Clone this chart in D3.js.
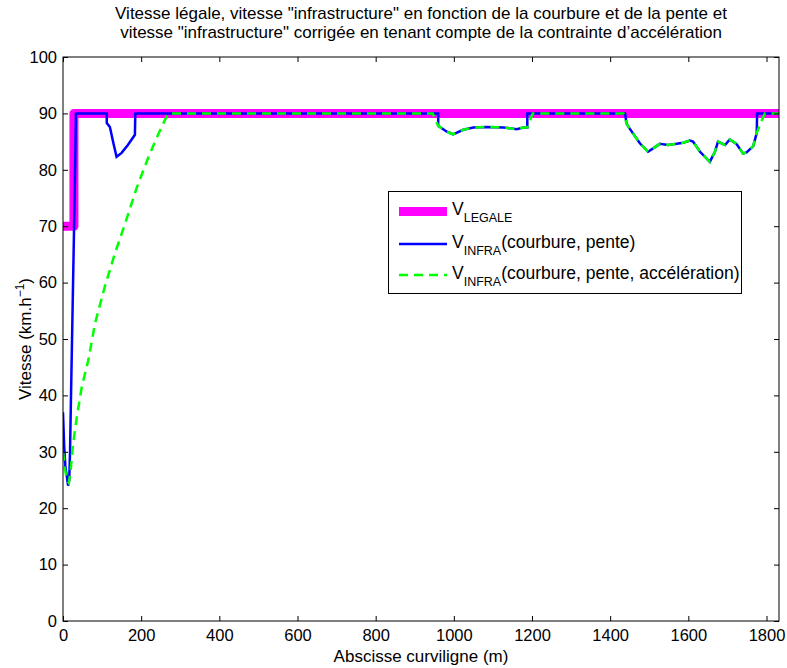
<!DOCTYPE html>
<html><head><meta charset="utf-8">
<script src="https://cdn.jsdelivr.net/npm/d3@7"></script>
<style>body{margin:0;background:#fff;} text{font-family:"Liberation Sans",Arial,sans-serif;}</style>
</head><body>
<svg id="c" width="787" height="668"></svg>
<script>
const titleLines = ['Vitesse légale, vitesse "infrastructure" en fonction de la courbure et de la pente et',
  'vitesse "infrastructure" corrigée en tenant compte de la contrainte d\u2019accélération'];
const xTicks = [0,200,400,600,800,1000,1200,1400,1600,1800];
const yTicks = [0,10,20,30,40,50,60,70,80,90,100];
const vLegale = [[0,70],[28,70],[28,90],[1832,90]];
const vInfra = [[0,37],[3,31],[6,27.5],[9,26],[13,24],[16,25],[18,30],[20,38],[31,80],[33,90],[112,90],[112,88.3],[120,87.6],[128,85],[137,82.3],[150,83],[166,84.4],[184,86.2],[185,90],
 [960,90],[960,87.8],[981,86.8],[998,86.3],[1024,87.1],[1050,87.5],[1084,87.6],[1126,87.5],[1161,87.2],[1178,87.5],[1188,87.5],[1188,90],
 [1438,90],[1442,88.2],[1450,87.3],[1476,84.7],[1497,83.2],[1510,83.8],[1527,84.6],[1548,84.4],[1570,84.6],[1587,84.8],[1604,85.2],[1612,85.0],[1630,83.2],[1655,81.4],[1668,83.2],[1676,85.0],[1685,84.7],[1694,84.4],[1706,85.4],[1723,84.6],[1740,82.9],[1749,83.1],[1766,84.2],[1775,86.5],[1776,90],[1832,90]];
const vInfraAcc = [[0,30],[5,27],[10,25],[15,24.5],[20,27],[25,31],[35,36],[48,41.5],[65,46.3],[82,52.8],[107,59.3],[133,65.2],[159,70.5],[188,76.7],[220,82.5],[245,86.5],[262,89],[270,90],
 [946,90],[960,87.8],[981,86.8],[998,86.3],[1024,87.1],[1050,87.5],[1084,87.6],[1126,87.5],[1161,87.2],[1178,87.5],[1188,87.5],[1202,90],
 [1434,90],[1442,88.2],[1450,87.3],[1476,84.7],[1497,83.2],[1510,83.8],[1527,84.6],[1548,84.4],[1570,84.6],[1587,84.8],[1604,85.2],[1612,85.0],[1630,83.2],[1655,81.4],[1668,83.2],[1676,85.0],[1685,84.7],[1694,84.4],[1706,85.4],[1723,84.6],[1740,82.9],[1749,83.1],[1766,84.2],[1775,86.5],[1786,88.5],[1796,90],[1832,90]];

const svg = d3.select('#c');
const L=63, R=779, T=57, B=621;
const x = d3.scaleLinear().domain([0,1832]).range([L,R]);
const y = d3.scaleLinear().domain([0,100]).range([B,T]);

svg.append('defs').append('clipPath').attr('id','clip').append('rect').attr('x',L).attr('y',T).attr('width',R-L).attr('height',B-T);

const line = d3.line().x(d=>x(d[0])).y(d=>y(d[1]));
const g = svg.append('g').attr('clip-path','url(#clip)');
g.append('path').datum(vLegale).attr('d',line).attr('fill','none').attr('stroke','#ff00ff').attr('stroke-width',9).attr('stroke-linejoin','round');
g.append('path').datum(vInfra).attr('d',line).attr('fill','none').attr('stroke','#0000ff').attr('stroke-width',2.5);
g.append('path').datum(vInfraAcc).attr('d',line).attr('fill','none').attr('stroke','#00ff00').attr('stroke-width',2.5).attr('stroke-dasharray','9,6');

// axes
const fs = 16.5;
const fmt = d3.format('d');
svg.append('g').attr('transform',`translate(0,${B})`).call(d3.axisBottom(x).tickValues(xTicks).tickFormat(fmt).tickSizeInner(-5).tickSizeOuter(0).tickPadding(8.5))
  .call(a=>{a.select('.domain').remove(); a.selectAll('text').attr('font-size',fs).attr('fill','#000').attr('font-family','Liberation Sans, Arial');});
svg.append('g').attr('transform',`translate(0,${T})`).call(d3.axisTop(x).tickValues(xTicks).tickSizeInner(-5).tickSizeOuter(0).tickFormat(''))
  .call(a=>a.select('.domain').remove());
svg.append('g').attr('transform',`translate(${L},0)`).call(d3.axisLeft(y).tickValues(yTicks).tickFormat(fmt).tickSizeInner(-5).tickSizeOuter(0).tickPadding(6))
  .call(a=>{a.select('.domain').remove(); a.selectAll('text').attr('font-size',fs).attr('fill','#000').attr('font-family','Liberation Sans, Arial');});
svg.append('g').attr('transform',`translate(${R},0)`).call(d3.axisRight(y).tickValues(yTicks).tickSizeInner(-5).tickSizeOuter(0).tickFormat(''))
  .call(a=>a.select('.domain').remove());
svg.selectAll('.tick line').attr('stroke','#000');
svg.append('rect').attr('x',L).attr('y',T).attr('width',R-L).attr('height',B-T).attr('fill','none').attr('stroke','#000').attr('stroke-width',1);

// title
titleLines.forEach((t,i)=>svg.append('text').attr('x',421).attr('y',19+i*19).attr('text-anchor','middle').attr('font-size',17).text(t));

// axis labels
svg.append('text').attr('x',(L+R)/2).attr('y',662).attr('text-anchor','middle').attr('font-size',17).text('Abscisse curviligne (m)');
const yl = svg.append('text').attr('transform',`translate(31,${(T+B)/2}) rotate(-90)`).attr('text-anchor','middle').attr('font-size',17);
yl.append('tspan').text('Vitesse (km.h');
yl.append('tspan').attr('font-size',12).attr('dy',-7).text('\u22121');
yl.append('tspan').attr('dy',7).text(')');

// legend
const lg = svg.append('g');
lg.append('rect').attr('x',388.5).attr('y',191.5).attr('width',353).attr('height',102).attr('fill','#fff').attr('stroke','#000');
const items = [
  {sub:'LEGALE', rest:'', color:'#ff00ff', w:9, dash:null, yy:211.5},
  {sub:'INFRA', rest:'(courbure, pente)', color:'#0000ff', w:2.5, dash:null, yy:244},
  {sub:'INFRA', rest:'(courbure, pente, accélération)', color:'#00ff00', w:2.5, dash:'9,6', yy:275}
];
items.forEach(it=>{
  const l = lg.append('line').attr('x1',399).attr('x2',447).attr('y1',it.yy).attr('y2',it.yy).attr('stroke',it.color).attr('stroke-width',it.w);
  if(it.dash) l.attr('stroke-dasharray',it.dash);
  const t = lg.append('text').attr('x',452).attr('y',it.yy+3.5).attr('font-size',17.5);
  t.append('tspan').text('V');
  t.append('tspan').attr('font-size',12.5).attr('dy',7).text(it.sub);
  if(it.rest) t.append('tspan').attr('dy',-7).text(it.rest);
});
</script>
</body></html>
